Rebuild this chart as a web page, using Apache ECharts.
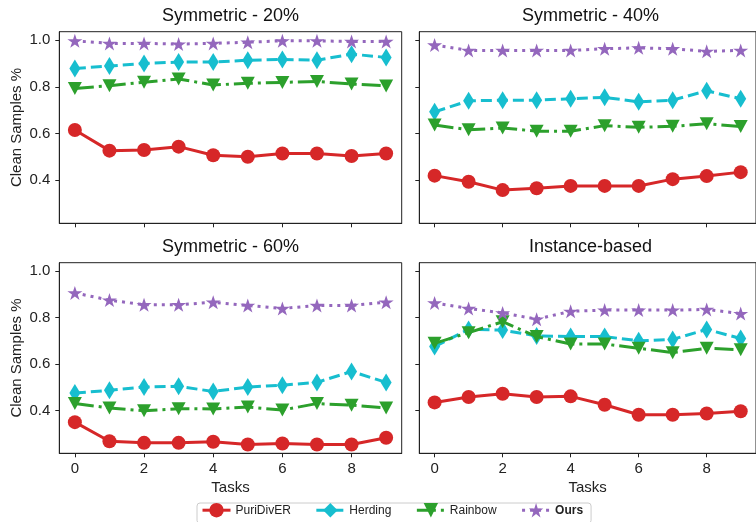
<!DOCTYPE html>
<html>
<head>
<meta charset="utf-8">
<script src="https://cdn.jsdelivr.net/npm/echarts@6/dist/echarts.min.js"></script>
<style>
html,body{margin:0;padding:0;background:#fff;}
#c{width:756px;height:522px;}
</style>
</head>
<body>
<div id="c"></div>
<script>
// ---- data ----
const tasks = [0, 1, 2, 3, 4, 5, 6, 7, 8, 9];
const panelTitles = ['Symmetric - 20%', 'Symmetric - 40%', 'Symmetric - 60%', 'Instance-based'];
const methods = ['PuriDivER', 'Herding', 'Rainbow', 'Ours'];
const xTickLabels = [0, 2, 4, 6, 8];
const yTickLabels = [0.4, 0.6, 0.8, 1.0];

// Symmetric - 20%
const puridiver_sym20 = [0.615, 0.527, 0.530, 0.544, 0.507, 0.501, 0.515, 0.515, 0.504, 0.515];
const herding_sym20   = [0.879, 0.889, 0.900, 0.906, 0.906, 0.914, 0.917, 0.914, 0.940, 0.926];
const rainbow_sym20   = [0.793, 0.805, 0.820, 0.834, 0.808, 0.815, 0.819, 0.823, 0.812, 0.804];
const ours_sym20      = [0.997, 0.986, 0.986, 0.983, 0.986, 0.991, 0.997, 0.997, 0.994, 0.994];
// Symmetric - 40%
const puridiver_sym40 = [0.420, 0.394, 0.358, 0.366, 0.376, 0.376, 0.376, 0.405, 0.418, 0.435];
const herding_sym40   = [0.693, 0.740, 0.743, 0.743, 0.749, 0.755, 0.736, 0.743, 0.783, 0.749];
const rainbow_sym40   = [0.637, 0.616, 0.624, 0.610, 0.610, 0.634, 0.627, 0.631, 0.642, 0.630];
const ours_sym40      = [0.979, 0.956, 0.956, 0.956, 0.956, 0.963, 0.967, 0.963, 0.952, 0.956];
// Symmetric - 60%
const puridiver_sym60 = [0.350, 0.268, 0.261, 0.261, 0.266, 0.254, 0.258, 0.254, 0.254, 0.283];
const herding_sym60   = [0.475, 0.487, 0.501, 0.504, 0.482, 0.501, 0.509, 0.521, 0.568, 0.521];
const rainbow_sym60   = [0.430, 0.411, 0.399, 0.408, 0.407, 0.415, 0.402, 0.430, 0.423, 0.411];
const ours_sym60      = [0.906, 0.875, 0.855, 0.855, 0.866, 0.852, 0.839, 0.852, 0.852, 0.866];
// Instance-based
const puridiver_inst  = [0.435, 0.458, 0.472, 0.458, 0.461, 0.425, 0.382, 0.382, 0.387, 0.397];
const herding_inst    = [0.675, 0.749, 0.746, 0.721, 0.718, 0.718, 0.700, 0.706, 0.749, 0.710];
const rainbow_inst    = [0.689, 0.735, 0.782, 0.718, 0.686, 0.686, 0.668, 0.649, 0.668, 0.661];
const ours_inst       = [0.863, 0.839, 0.820, 0.793, 0.827, 0.832, 0.832, 0.832, 0.835, 0.817];

const panelData = [
  [puridiver_sym20, herding_sym20, rainbow_sym20, ours_sym20],
  [puridiver_sym40, herding_sym40, rainbow_sym40, ours_sym40],
  [puridiver_sym60, herding_sym60, rainbow_sym60, ours_sym60],
  [puridiver_inst, herding_inst, rainbow_inst, ours_inst]
];

// ---- styles ----
const FONT = 'Liberation Sans, Arial, sans-serif';
const colors = ['#d62728', '#17becf', '#2ca02c', '#9467bd'];
const STAR = 'path://M100,0 L122.45,69.1 L195.1,69.1 L136.3,111.8 L158.8,180.9 L100,138.2 L41.2,180.9 L63.7,111.8 L4.9,69.1 L77.55,69.1 Z';
const styleDefs = [
  {symbol: 'circle', symbolSize: 14, rotate: 0, dash: 'solid'},
  {symbol: 'diamond', symbolSize: [11, 18], rotate: 0, dash: [11, 5]},
  {symbol: 'triangle', symbolSize: [14, 13], rotate: 180, dash: [19, 5, 3, 5]},
  {symbol: STAR, symbolSize: [15, 14], rotate: 0, dash: [3, 5]}
];

const gridPos = [
  {left: 59.3, top: 31.7, width: 342.4, height: 191.6},
  {left: 419.3, top: 31.7, width: 342.4, height: 191.6},
  {left: 59.3, top: 262.7, width: 342.4, height: 190.6},
  {left: 419.3, top: 262.7, width: 342.4, height: 190.6}
];

const grids = [], xAxes = [], yAxes = [], series = [], graphics = [];
gridPos.forEach((g, i) => {
  grids.push(Object.assign({show: true, borderColor: '#222', borderWidth: 1, backgroundColor: 'transparent'}, g));
  const bottomRow = i >= 2, leftCol = i % 2 === 0;
  xAxes.push({
    type: 'value', gridIndex: i, min: -0.45, max: 9.45,
    axisLine: {show: true, onZero: false, lineStyle: {color: '#222', width: 1}},
    axisTick: {show: true, customValues: xTickLabels, length: 4, lineStyle: {color: '#222'}},
    axisLabel: {show: bottomRow, customValues: xTickLabels, margin: 8, fontSize: 15, color: '#222', fontFamily: FONT},
    splitLine: {show: false},
    name: bottomRow ? 'Tasks' : '', nameLocation: 'middle', nameGap: 27,
    nameTextStyle: {fontSize: 15, color: '#222', fontFamily: FONT}
  });
  yAxes.push({
    type: 'value', gridIndex: i, min: 0.216, max: 1.036,
    axisLine: {show: true, onZero: false, lineStyle: {color: '#222', width: 1}},
    axisTick: {show: true, customValues: yTickLabels, length: 4, lineStyle: {color: '#222'}},
    axisLabel: {show: leftCol, customValues: yTickLabels, margin: 9, fontSize: 15, color: '#222', fontFamily: FONT,
      formatter: v => v.toFixed(1)},
    splitLine: {show: false},
    name: leftCol ? 'Clean Samples %' : '', nameLocation: 'middle', nameGap: 35, nameRotate: 90,
    nameTextStyle: {fontSize: 15, color: '#222', fontFamily: FONT}
  });
  graphics.push({
    type: 'text', x: g.left + 171.2, y: g.top - 15.5,
    style: {text: panelTitles[i], font: '18px ' + FONT, fill: '#111', textAlign: 'center', textVerticalAlign: 'middle'}
  });
  methods.forEach((m, k) => {
    const sd = styleDefs[k];
    series.push({
      name: m, type: 'line', xAxisIndex: i, yAxisIndex: i,
      data: tasks.map((t, j) => [t, panelData[i][k][j]]),
      symbol: sd.symbol, symbolSize: sd.symbolSize, symbolRotate: sd.rotate, symbolKeepAspect: false,
      showAllSymbol: true,
      itemStyle: {color: colors[k], borderColor: colors[k], borderWidth: 0},
      lineStyle: {color: colors[k], width: 3, type: sd.dash},
      emphasis: {disabled: true},
      animation: false, z: 2 + k
    });
  });
});

const option = {
  backgroundColor: '#fff',
  animation: false,
  textStyle: {fontFamily: FONT},
  grid: grids, xAxis: xAxes, yAxis: yAxes, series: series,
  graphic: graphics,
  legend: {
    data: methods, left: 197, top: 503, orient: 'horizontal',
    itemWidth: 28, itemHeight: 18, itemGap: 24,
    padding: [0, 8, 6, 4],
    lineStyle: {width: 3},
    borderColor: '#cccccc', borderWidth: 1, borderRadius: 3, backgroundColor: '#fff',
    textStyle: {fontSize: 12, color: '#222', fontFamily: FONT, rich: {b: {fontWeight: 'bold', fontSize: 12, fontFamily: FONT, color: '#222'}}},
    formatter: n => n === 'Ours' ? '{b|Ours}' : n,
    selectedMode: false
  }
};
const chart = echarts.init(document.getElementById('c'), null, {renderer: 'canvas'});
chart.setOption(option);
</script>
</body>
</html>
